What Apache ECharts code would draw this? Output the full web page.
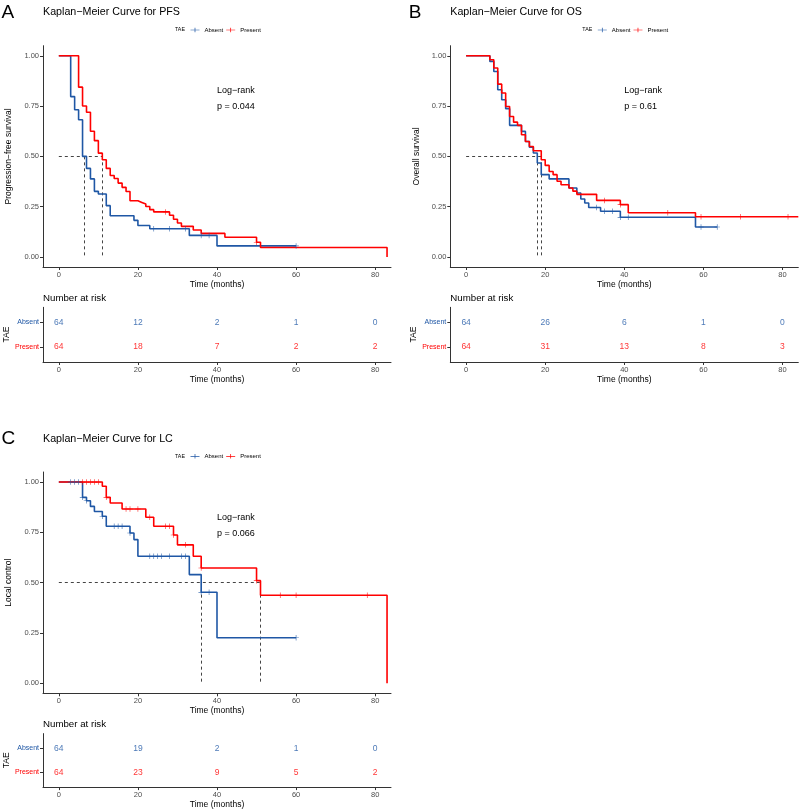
<!DOCTYPE html>
<html>
<head>
<meta charset="utf-8">
<script src="https://cdn.jsdelivr.net/npm/echarts@6/dist/echarts.min.js"></script>
<style>
html,body{margin:0;padding:0;background:#fff}
#main{width:800px;height:810px}
</style>
</head>
<body>
<div id="main"></div>
<script>
const FONT = "'Liberation Sans', Arial, sans-serif";
const BLUE = '#1F57A5';
const RED = '#FF0000';

// axis ticks
const timeTicks = [0, 20, 40, 60, 80];
const survTicks = [0, 0.25, 0.5, 0.75, 1];
const riskTimes = [0, 20, 40, 60, 80];

// A - PFS
const pfsAbsentTime = [0, 3, 4, 5, 6, 7, 8, 9, 10, 12, 13, 19, 20, 23, 33, 40, 60];
const pfsAbsentSurv = [1, 0.797, 0.732, 0.682, 0.5, 0.44, 0.388, 0.326, 0.313, 0.255, 0.205, 0.182, 0.156, 0.14, 0.107, 0.055, 0.055];
const pfsAbsentCensor = [24, 28, 32, 36, 38, 60];
const pfsPresentTime = [0, 5, 6, 7, 8, 9, 10, 11, 12, 13, 14, 15, 16, 17, 18, 20, 21, 22, 23, 24, 28, 29, 30, 31, 34, 36, 42, 50, 51, 83];
const pfsPresentSurv = [1, 0.844, 0.75, 0.719, 0.625, 0.578, 0.516, 0.483, 0.44, 0.405, 0.39, 0.367, 0.346, 0.325, 0.279, 0.271, 0.263, 0.251, 0.235, 0.224, 0.207, 0.187, 0.169, 0.152, 0.134, 0.117, 0.098, 0.073, 0.047, 0];
const pfsPresentCensor = [27, 50];
const pfsMedian = [6.5, 11];
const pfsRiskAbsent = [64, 12, 2, 1, 0];
const pfsRiskPresent = [64, 18, 7, 2, 2];

// B - OS
const osAbsentTime = [0, 6, 7, 8, 9, 10, 11, 14, 15, 16, 17, 18, 19, 21, 26, 28, 29, 30, 31, 34, 39, 58, 63.5];
const osAbsentSurv = [1, 0.972, 0.922, 0.831, 0.781, 0.737, 0.654, 0.624, 0.574, 0.545, 0.517, 0.467, 0.409, 0.388, 0.343, 0.318, 0.288, 0.268, 0.246, 0.227, 0.197, 0.149, 0.149];
const osAbsentCensor = [33, 35, 37, 39, 41, 59.4, 63.5];
const osPresentTime = [0, 6, 7, 8, 9, 10, 11, 12, 13, 14, 15, 16, 17, 19, 20, 21, 22, 23, 24, 26, 27, 28, 33, 39, 41, 58, 84];
const osPresentSurv = [1, 0.98, 0.939, 0.859, 0.815, 0.748, 0.698, 0.67, 0.654, 0.607, 0.574, 0.549, 0.528, 0.483, 0.455, 0.425, 0.409, 0.376, 0.359, 0.343, 0.327, 0.311, 0.281, 0.26, 0.22, 0.2, 0.2];
const osPresentCensor = [35, 39, 51, 59.4, 69.4, 81.4];
const osMedian = [18, 19];
const osRiskAbsent = [64, 26, 6, 1, 0];
const osRiskPresent = [64, 31, 13, 8, 3];

// C - LC
const lcAbsentTime = [0, 6, 7, 8, 9, 11, 12, 18, 19, 20, 33, 36, 40, 60];
const lcAbsentSurv = [1, 0.924, 0.907, 0.879, 0.854, 0.83, 0.78, 0.747, 0.714, 0.631, 0.54, 0.452, 0.226, 0.226];
const lcAbsentCensor = [3, 4, 5, 6, 7, 11, 14, 15, 16, 18, 23, 24, 25, 26, 28, 31, 32, 36, 38, 60];
const lcPresentTime = [0, 11, 12, 13, 16, 22, 24, 29, 30, 34, 36, 50, 51, 83];
const lcPresentSurv = [1, 0.979, 0.924, 0.896, 0.866, 0.825, 0.78, 0.737, 0.688, 0.631, 0.573, 0.51, 0.437, 0];
const lcPresentCensor = [6, 7, 8, 9, 10, 12, 17, 18, 20, 23, 27, 28, 29, 32, 36, 50, 56, 60, 78];
const lcMedian = [36, 51];
const lcRiskAbsent = [64, 19, 2, 1, 0];
const lcRiskPresent = [64, 23, 9, 5, 2];

const panels = [
  {x: 43, y: 0, letter: 'A', title: 'Kaplan−Meier Curve for PFS', ylab: 'Progression−free survival', p: 'p = 0.044',
   aT: pfsAbsentTime, aS: pfsAbsentSurv, aC: pfsAbsentCensor, pT: pfsPresentTime, pS: pfsPresentSurv, pC: pfsPresentCensor,
   med: pfsMedian, rA: pfsRiskAbsent, rP: pfsRiskPresent},
  {x: 450.3, y: 0, letter: 'B', title: 'Kaplan−Meier Curve for OS', ylab: 'Overall survival', p: 'p = 0.61',
   aT: osAbsentTime, aS: osAbsentSurv, aC: osAbsentCensor, pT: osPresentTime, pS: osPresentSurv, pC: osPresentCensor,
   med: osMedian, rA: osRiskAbsent, rP: osRiskPresent},
  {x: 43, y: 426.3, letter: 'C', title: 'Kaplan−Meier Curve for LC', ylab: 'Local control', p: 'p = 0.066',
   aT: lcAbsentTime, aS: lcAbsentSurv, aC: lcAbsentCensor, pT: lcPresentTime, pS: lcPresentSurv, pC: lcPresentCensor,
   med: lcMedian, rA: lcRiskAbsent, rP: lcRiskPresent}
];

const CROSS = 'path://M0,4.4H10V5.6H0Z M4.4,0H5.6V10H4.4Z';
const LEGEND_ICON = 'path://M0,4.2H20V5.8H0Z M9.2,0H10.8V10H9.2Z';

function stepAt(times, surv, t) {
  var s = surv[0];
  for (var i = 0; i < times.length; i++) {
    if (times[i] <= t) s = surv[i];
  }
  return s;
}

var chart = echarts.init(document.getElementById('main'));

var grid = [], xAxis = [], yAxis = [], series = [], legend = [], graphic = [];
var axisLine = {show: true, onZero: false, lineStyle: {color: '#333', width: 1}};
var axisTickStyle = {show: true, length: 3, lineStyle: {color: '#333', width: 1}};

function txt(x, y, text, size, color) {
  graphic.push({type: 'text', x: x, y: y, silent: true,
    style: {text: text, fontSize: size, fontFamily: FONT, fill: color || '#000', verticalAlign: 'middle', align: 'left'}});
}

panels.forEach(function (p, i) {
  var gMain = 2 * i, gRisk = 2 * i + 1;
  grid.push({left: p.x, top: p.y + 45.7, width: 348, height: 221.3});
  grid.push({left: p.x, top: p.y + 307.3, width: 348, height: 54.7});

  [gMain, gRisk].forEach(function (g) {
    xAxis.push({type: 'value', gridIndex: g, min: -4, max: 84,
      name: 'Time (months)', nameLocation: 'middle', nameGap: 12,
      nameTextStyle: {fontSize: 8.5, fontFamily: FONT, color: '#000'},
      axisLine: axisLine, splitLine: {show: false},
      axisTick: Object.assign({customValues: timeTicks}, axisTickStyle),
      axisLabel: {customValues: timeTicks, fontSize: 7.5, fontFamily: FONT, color: '#4D4D4D', margin: 4}
    });
  });

  yAxis.push({type: 'value', gridIndex: gMain, min: -0.05, max: 1.05,
    name: p.ylab, nameLocation: 'middle', nameGap: 29.5,
    nameTextStyle: {fontSize: 8.5, fontFamily: FONT, color: '#000'},
    axisLine: axisLine, splitLine: {show: false},
    axisTick: Object.assign({customValues: survTicks}, axisTickStyle),
    axisLabel: {customValues: survTicks, fontSize: 7.5, fontFamily: FONT, color: '#4D4D4D', margin: 4,
      formatter: function (v) { return v.toFixed(2); }}
  });
  yAxis.push({type: 'value', gridIndex: gRisk, min: 0.4, max: 2.6,
    name: 'TAE', nameLocation: 'middle', nameGap: 29.5,
    nameTextStyle: {fontSize: 8.5, fontFamily: FONT, color: '#000'},
    axisLine: axisLine, splitLine: {show: false},
    axisTick: Object.assign({customValues: [1, 2]}, axisTickStyle),
    axisLabel: {customValues: [1, 2], fontSize: 7, fontFamily: FONT, margin: 4,
      color: function (v) { return Number(v) === 2 ? BLUE : RED; },
      formatter: function (v) { return v === 2 ? 'Absent' : 'Present'; }}
  });

  // median dashed lines
  var medMax = Math.max.apply(null, p.med);
  var medData = [{coords: [[0, 0.5], [medMax, 0.5]]}];
  p.med.forEach(function (m) { medData.push({coords: [[m, 0.5], [m, 0]]}); });
  series.push({type: 'lines', coordinateSystem: 'cartesian2d', xAxisIndex: gMain, yAxisIndex: gMain,
    silent: true, z: 1, polyline: false,
    lineStyle: {color: '#444', width: 1, type: [3, 3], opacity: 1},
    data: medData});

  [['Absent', p.aT, p.aS, p.aC, BLUE], ['Present', p.pT, p.pS, p.pC, RED]].forEach(function (s) {
    series.push({type: 'line', name: s[0], xAxisIndex: gMain, yAxisIndex: gMain, step: 'end',
      showSymbol: false, symbol: 'none', z: 3,
      lineStyle: {color: s[4], width: 1.6}, itemStyle: {color: s[4]},
      data: s[1].map(function (t, k) { return [t, s[2][k]]; })});
    series.push({type: 'scatter', name: s[0] + ' censored', xAxisIndex: gMain, yAxisIndex: gMain,
      symbol: CROSS, symbolSize: 5.5, z: 4, silent: true, itemStyle: {color: s[4]},
      data: s[3].map(function (t) { return [t, stepAt(s[1], s[2], t)]; })});
  });

  // risk table numbers
  [[p.rA, 2, BLUE], [p.rP, 1, RED]].forEach(function (r) {
    series.push({type: 'scatter', xAxisIndex: gRisk, yAxisIndex: gRisk, symbolSize: 1,
      itemStyle: {color: 'rgba(0,0,0,0)'}, silent: true,
      label: {show: true, position: 'inside', fontSize: 8.5, fontFamily: FONT, color: r[2],
        textBorderWidth: 0,
        formatter: function (d) { return String(d.value[2]); }},
      data: riskTimes.map(function (t, k) { return [t, r[1], r[0][k]]; })});
  });

  legend.push({left: p.x + 147.5, top: p.y + 27, itemWidth: 9, itemHeight: 6, itemGap: 3, padding: 0,
    selectedMode: false,
    textStyle: {fontSize: 6, fontFamily: FONT, color: '#000'},
    data: [{name: 'Absent', icon: LEGEND_ICON}, {name: 'Present', icon: LEGEND_ICON}]});

  txt(p.x - 41.5, p.y + 12.8, p.letter, 19);
  txt(p.x, p.y + 12.3, p.title, 10.7);
  txt(p.x + 132, p.y + 30, 'TAE', 5.3);
  txt(p.x + 174, p.y + 91, 'Log−rank', 9);
  txt(p.x + 174, p.y + 107, p.p, 9);
  txt(p.x, p.y + 298, 'Number at risk', 9.7);
});

chart.setOption({
  animation: false,
  backgroundColor: '#fff',
  grid: grid,
  xAxis: xAxis,
  yAxis: yAxis,
  legend: legend,
  graphic: graphic,
  series: series
});
</script>
</body>
</html>
